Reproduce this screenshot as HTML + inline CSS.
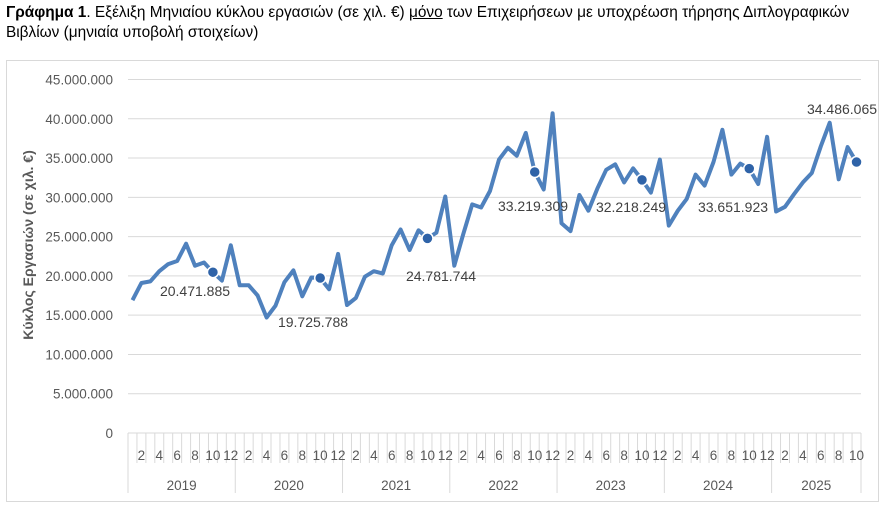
<!DOCTYPE html>
<html><head><meta charset="utf-8">
<style>
body{margin:0;background:#fff;width:887px;height:510px;overflow:hidden;font-family:"Liberation Sans","DejaVu Sans",sans-serif}
.t{position:absolute;left:6px;top:3px;font-size:15.4px;line-height:20px;color:#000;width:870px;white-space:nowrap}
svg{position:absolute;left:0;top:0}
</style></head><body>
<div class="t"><b>Γράφημα 1</b>. Εξέλιξη Μηνιαίου κύκλου εργασιών (σε χιλ. €) <u>μόνο</u> των Επιχειρήσεων με υποχρέωση τήρησης Διπλογραφικών<br>Βιβλίων (μηνιαία υποβολή στοιχείων)</div>
<svg id="s" width="887" height="510" xmlns="http://www.w3.org/2000/svg" font-family="Liberation Sans, DejaVu Sans, sans-serif"></svg>
<script>
const d=[16.9,19.1,19.3,20.6,21.5,21.9,24.1,21.3,21.7,20.47,19.4,23.9,
18.8,18.8,17.5,14.7,16.2,19.2,20.7,17.4,19.8,19.73,18.3,22.8,
16.3,17.2,19.9,20.6,20.3,23.9,25.9,23.3,25.8,24.78,25.5,30.1,
21.3,25.3,29.1,28.7,30.8,34.8,36.3,35.3,38.2,33.22,31.0,40.7,
26.7,25.7,30.3,28.3,31.1,33.5,34.2,31.9,33.7,32.22,30.6,34.8,
26.4,28.3,29.8,32.9,31.5,34.5,38.6,32.9,34.3,33.65,31.7,37.7,
28.2,28.8,30.4,31.9,33.1,36.5,39.5,32.3,36.4,34.49];
const L=128,R=861,T=79.5,B=433,n=82,w=(R-L)/n;
const X=i=>L+w*(i+0.5),Y=v=>B-(B-T)*v/45;
let s='<rect x="6.5" y="60.5" width="872" height="441" fill="none" stroke="#d9d9d9"/>';
for(let k=0;k<=9;k++){const y=Y(k*5);
 if(k>0)s+=`<line x1="${L}" x2="${R}" y1="${y}" y2="${y}" stroke="#d9d9d9"/>`;
 const lab=k==0?'0':(k*5).toString()+'.000.000';
 s+=`<text x="113" y="${y+5}" text-anchor="end" font-size="13.5" fill="#595959">${lab}</text>`;}
s+=`<line x1="${L}" x2="${R}" y1="${B}" y2="${B}" stroke="#d9d9d9"/>`;
for(let i=0;i<=n;i++){const x=L+w*i;const yr=i%12==0||i==n;
 s+=`<line x1="${x}" x2="${x}" y1="${B}" y2="${yr?493:463}" stroke="#d9d9d9"/>`;}
for(let i=0;i<n;i++){const m=i%12+1;if(m%2==0)s+=`<text x="${X(i)}" y="460" text-anchor="middle" font-size="13.5" fill="#595959">${m}</text>`;}
for(let y=0;y<7;y++){const a=L+w*12*y,b=Math.min(L+w*12*(y+1),R);
 s+=`<text x="${(a+b)/2}" y="490" text-anchor="middle" font-size="13.5" fill="#595959">${2019+y}</text>`;}
s+=`<text transform="translate(33,245) rotate(-90)" text-anchor="middle" font-size="14" font-weight="bold" fill="#595959">Κύκλος Εργασιών (σε χιλ. €)</text>`;
s+=`<polyline fill="none" stroke="#4f81bd" stroke-width="4" stroke-linejoin="round" points="${d.map((v,i)=>X(i).toFixed(1)+','+Y(v).toFixed(1)).join(' ')}"/>`;
const labs=[[9,'20.471.885',195,296],[21,'19.725.788',313,327],[33,'24.781.744',441,281],[45,'33.219.309',533,211],[57,'32.218.249',631,212],[69,'33.651.923',733,212],[81,'34.486.065',842,114]];
for(const[i,t,x,y]of labs){s+=`<circle cx="${X(i)}" cy="${Y(d[i])}" r="5.5" fill="#2f63a8" stroke="#fff" stroke-width="1.5"/>`;
 s+=`<text x="${x}" y="${y}" text-anchor="middle" font-size="14" fill="#404040">${t}</text>`;}
document.getElementById('s').innerHTML=s;
</script>
</body></html>
